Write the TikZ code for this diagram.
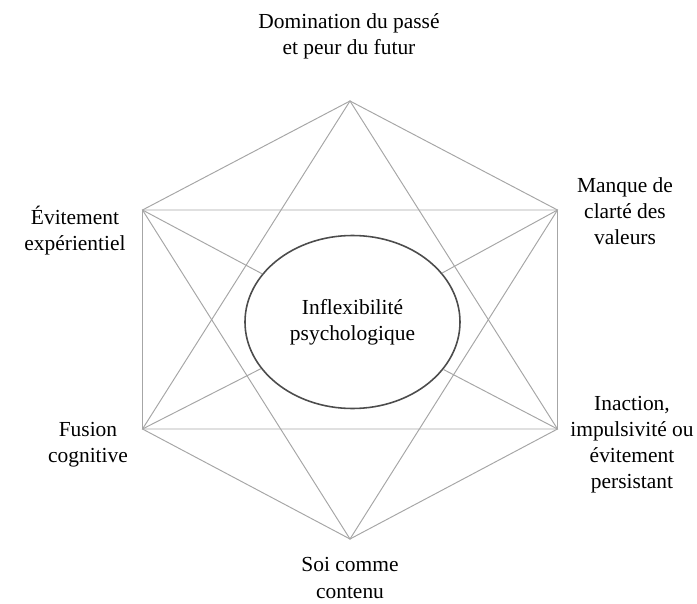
\documentclass[tikz,border=0pt]{standalone}
\usepackage{fontspec}
\setmainfont{Liberation Serif}
\usetikzlibrary{shapes.geometric,positioning}

\begin{document}
\begin{tikzpicture}[
        edge/.style={draw=black!35, line width=0.55pt},
        label/.style={align=center, font=\fontsize{12.2}{14.8}\selectfont},
        core/.style={ellipse, draw=black!70, line width=0.9pt, minimum width=4.3cm, minimum height=3.46cm, inner sep=0pt, align=center, font=\fontsize{12.2}{14.8}\selectfont}
    ]
        \useasboundingbox (-7, -5.62) rectangle (6.94, 6.44);

        \coordinate (top) at (0, 4.42);
        \coordinate (ul) at (-4.15, 2.24);
        \coordinate (ur) at (4.15, 2.24);
        \coordinate (ll) at (-4.15, -2.14);
        \coordinate (lr) at (4.15, -2.14);
        \coordinate (bot) at (0, -4.34);

        \node[core] (psy) at (0.05, 0) {Inflexibilité\\psychologique};

        \draw[edge] (top) -- (ur) -- (lr) -- (bot) -- (ll) -- (ul) -- cycle;
        \draw[edge] (top) -- (ll) -- (lr) -- cycle;
        \draw[edge] (bot) -- (ul) -- (ur) -- cycle;
        \draw[edge] (ul) -- (psy);
        \draw[edge] (lr) -- (psy);
        \draw[edge] (ll) -- (psy);
        \draw[edge] (ur) -- (psy);

        \node[label] (passe) at (-0.02, 5.72) {Domination du passé\\et peur du futur};
        \node[label] (evit) at (-5.5, 1.82) {Évitement\\expérientiel};
        \node[label] (valeurs) at (5.5, 2.22) {Manque de\\clarté des\\valeurs};
        \node[label] (fusion) at (-5.24, -2.46) {Fusion\\cognitive};
        \node[label] (inaction) at (5.64, -2.46) {Inaction,\\impulsivité ou\\évitement\\persistant};
        \node[label] (soi) at (0, -5.12) {Soi comme\\contenu};

    \end{tikzpicture}
\end{document}
